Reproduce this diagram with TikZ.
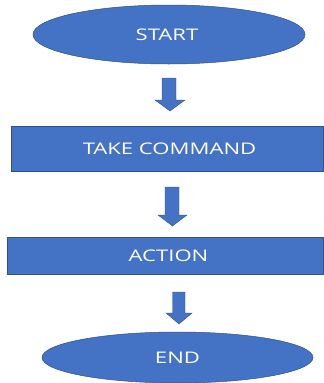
\documentclass[tikz,border=0pt]{standalone}
\usepackage{fontspec}
\setmainfont{Open Sans}[FakeStretch=1.38]
\definecolor{boxblue}{HTML}{4472C4}
\definecolor{edgeblue}{HTML}{2F528F}
\begin{document}
\begin{tikzpicture}[x=1pt,y=-1pt,
  shapebox/.style={fill=boxblue,draw=edgeblue,line width=0.5pt},
  lbl/.style={text=white,inner sep=0pt,font=\fontsize{16}{19}\selectfont},
  blockarrow/.style={fill=boxblue,draw=edgeblue,line width=0.4pt}]
\useasboundingbox (0,0) rectangle (324,383);
% START ellipse
\draw[shapebox] (169,34.5) ellipse [x radius=136, y radius=29.5];
\node[lbl] (start) at (167,35) {START};
% arrow 1
\draw[blockarrow] (162,78) -- (176,78) -- (176,100) -- (185,100) -- (170,111) -- (155,100) -- (162,100) -- cycle;
% TAKE COMMAND box
\draw[shapebox] (11,126) rectangle (323,171);
\node[lbl] (take) at (169.5,148.5) {TAKE COMMAND};
% arrow 2
\draw[blockarrow] (165,187) -- (179,187) -- (179,215) -- (187,215) -- (172.5,226) -- (158,215) -- (165,215) -- cycle;
% ACTION box
\draw[shapebox] (7,237) rectangle (323,274);
\node[lbl] (action) at (168.5,255.5) {ACTION};
% arrow 3
\draw[blockarrow] (172.5,292) -- (185,292) -- (185,313) -- (192,313) -- (179,324) -- (166,313) -- (172.5,313) -- cycle;
% END ellipse
\draw[shapebox] (177.5,357.5) ellipse [x radius=135.5, y radius=25.5];
\node[lbl] (end) at (177.5,358) {END};
\end{tikzpicture}
\end{document}
